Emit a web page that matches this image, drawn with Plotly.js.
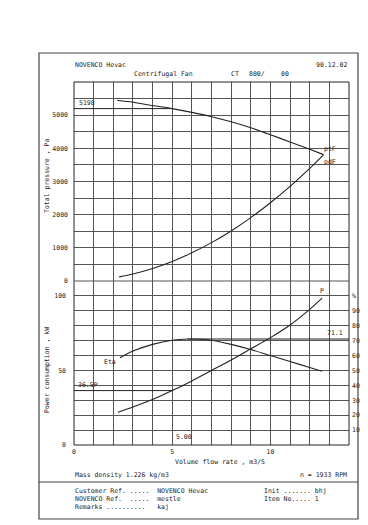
<!DOCTYPE html>
<html><head><meta charset="utf-8">
<script src="https://cdn.plot.ly/plotly-3.0.1.min.js"></script>
<style>html,body{margin:0;padding:0;background:#fff}#c{width:368px;height:525px}</style>
</head><body><div id="c"></div>
<script>
// Fan curves
const Q_pt = [2.2, 3, 4, 5, 6, 7, 8, 9, 10, 11, 12, 12.7];
const pt   = [5450, 5390, 5290, 5198, 5085, 4955, 4800, 4620, 4410, 4190, 3970, 3810];
const Q_pd = [2.3, 3, 4, 5, 6, 7, 8, 9, 10, 11, 12, 12.7];
const pd   = [125, 212, 378, 590, 850, 1157, 1510, 1912, 2360, 2855, 3398, 3805];
const Q_P  = [2.24, 3, 4, 5, 6, 7, 8, 9, 10, 11, 12, 12.63];
const power= [22, 25.5, 30.5, 36.5, 43, 50, 57, 64.5, 72, 80.5, 91, 98.5];
const Q_eta= [2.34, 3, 4, 5, 5.8, 6.5, 7, 8, 9, 10, 11, 12, 12.63];
const eta  = [58.5, 63, 67.5, 70.3, 71.1, 70.9, 70.3, 67.5, 64, 60, 56, 52, 49.5];
// operating point
const opQ = [5.00];
const opPt = [5198];
const opP = [36.5];
const etaMax = [71.1];
// ticks
const xTicks = [0, 5, 10];
const ptTicks = [0, 1000, 2000, 3000, 4000, 5000];
const ptMinor = [0,500,1000,1500,2000,2500,3000,3500,4000,4500,5000,5500,6000];
const pTicks = [0, 50, 100];
const pctTicks = [10,20,30,40,50,60,70,80,90,100];
const pctText = ['10','20','30','40','50','60','70','80','90','%'];

const F = 'DejaVu Sans Mono, Liberation Mono, monospace';
const INK = '#222';
const GRID = '#555';
const L = 74, R = 349, T = 82, B = 445;
const px = x => (x - L) / (R - L);
const py = y => (B - y) / (B - T);

const line = {color: INK, width: 1.1, shape: 'spline', smoothing: 0.8};
const traces = [
  {x: Q_pt, y: pt, xaxis: 'x', yaxis: 'y', mode: 'lines', line: line, name: 'ptF'},
  {x: Q_pd, y: pd, xaxis: 'x', yaxis: 'y', mode: 'lines', line: line, name: 'pdF'},
  {x: Q_P, y: power, xaxis: 'x', yaxis: 'y2', mode: 'lines', line: line, name: 'P'},
  {x: Q_eta, y: eta, xaxis: 'x', yaxis: 'y3', mode: 'lines', line: line, name: 'Eta'}
];

const split = (B - 281) / (B - T);
const tf = {family: F, size: 6.5, color: INK};
const layout = {
  width: 368, height: 525,
  margin: {l: L, r: 368 - R, t: T, b: 525 - B},
  paper_bgcolor: '#fff', plot_bgcolor: '#fff',
  showlegend: false,
  font: {family: F, size: 6.5, color: INK},
  xaxis: {
    anchor: 'y2', range: [0, 14], tickmode: 'array', tickvals: xTicks,
    showgrid: true, gridcolor: GRID, gridwidth: 1, zeroline: false,
    minor: {dtick: 1, tick0: 0, showgrid: true, gridcolor: GRID, gridwidth: 1},
    showline: false, ticks: '', tickfont: tf, ticklabelstandoff: 1
  },
  yaxis: {
    domain: [split, 1], range: [0, 6000], anchor: 'x',
    tickmode: 'array', tickvals: ptTicks,
    showgrid: true, gridcolor: GRID, gridwidth: 1, zeroline: false,
    minor: {tickmode: 'array', tickvals: ptMinor, showgrid: true, gridcolor: GRID, gridwidth: 1},
    showline: false, ticks: '', tickfont: tf, ticklabelstandoff: 5
  },
  yaxis2: {
    domain: [0, split], range: [0, 110], anchor: 'x',
    tickmode: 'array', tickvals: pTicks,
    showgrid: true, gridcolor: GRID, gridwidth: 1, zeroline: false,
    minor: {dtick: 10, tick0: 0, showgrid: true, gridcolor: GRID, gridwidth: 1},
    showline: false, ticks: '', tickfont: tf, ticklabelstandoff: 7
  },
  yaxis3: {
    overlaying: 'y2', side: 'right', anchor: 'x', range: [0, 110],
    tickmode: 'array', tickvals: pctTicks, ticktext: pctText,
    showgrid: false, zeroline: false, ticks: '', tickfont: tf, ticklabelstandoff: 2
  },
  shapes: [
    {type: 'rect', xref: 'paper', yref: 'paper', x0: 0, x1: 1, y0: 0, y1: 1,
     line: {color: INK, width: 1}},
    {type: 'line', xref: 'paper', yref: 'paper', x0: 0, x1: 1, y0: split, y1: split,
     line: {color: GRID, width: 1}},
    {type: 'rect', xref: 'paper', yref: 'paper', x0: px(39), x1: px(358), y0: py(519), y1: py(53),
     line: {color: '#444', width: 1.2}},
    {type: 'line', xref: 'paper', yref: 'paper', x0: px(39), x1: px(358), y0: py(482), y1: py(482),
     line: {color: '#444', width: 1.2}},
    {type: 'line', xref: 'x', yref: 'y', x0: 0, x1: opQ[0], y0: opPt[0], y1: opPt[0],
     line: {color: INK, width: 1}},
    {type: 'line', xref: 'x', yref: 'y2', x0: 0, x1: opQ[0], y0: opP[0], y1: opP[0],
     line: {color: INK, width: 1}},
    {type: 'line', xref: 'x', yref: 'y3', x0: 5.8, x1: 14, y0: etaMax[0], y1: etaMax[0],
     line: {color: INK, width: 1}}
  ],
  annotations: []
};
const A = (text, x, y, xanchor, yanchor, extra) => Object.assign(
  {text: text, x: px(x), y: py(y), xref: 'paper', yref: 'paper', xanchor: xanchor || 'left',
   yanchor: yanchor || 'middle', showarrow: false, font: {family: F, size: 6.5, color: INK}}, extra || {});
layout.annotations.push(
  A('NOVENCO Hevac', 73, 65),
  A('90.12.02', 349, 65, 'right'),
  A('Centrifugal Fan', 132, 74.5),
  A('CT', 229, 74.5),
  A('800/', 247, 74.5),
  A('00', 279, 74.5),
  A('Total pressure , Pa', 47, 176, 'center', 'middle', {textangle: -90}),
  A('Power consumption , kW', 47, 370, 'center', 'middle', {textangle: -90}),
  A('Volume flow rate , m3/S', 220, 462, 'center'),
  A('Mass density 1.226 kg/m3', 73, 475),
  A('n = 1933 RPM', 349, 475, 'right'),
  A('Customer Ref. .....  NOVENCO Hevac', 73, 491),
  A('NOVENCO Ref.  .....  mestle', 73, 499),
  A('Remarks ..........   kaj', 73, 507),
  A('Init ....... bhj', 262, 491),
  A('Item No..... 1', 262, 499)
);
const D = (text, x, y, yref, xanchor, yanchor) => ({text: text, x: x, y: y, xref: 'x', yref: yref,
  xanchor: xanchor, yanchor: yanchor, showarrow: false, font: {family: F, size: 6.5, color: INK}});
layout.annotations.push(
  D(String(opPt[0]), 0.15, opPt[0], 'y', 'left', 'bottom'),
  D('ptF', 12.65, 3976, 'y', 'left', 'middle'),
  D('pdF', 12.65, 3593, 'y', 'left', 'middle'),
  D(opP[0].toFixed(1) + 'P', 0.1, opP[0], 'y2', 'left', 'bottom'),
  D('Eta', 2.25, 56, 'y2', 'right', 'middle'),
  D('P', 12.6, 99.5, 'y2', 'center', 'bottom'),
  D(etaMax[0].toFixed(1), 12.8, etaMax[0], 'y3', 'left', 'bottom'),
  D(opQ[0].toFixed(2), 5.1, 1.5, 'y2', 'left', 'bottom')
);
Plotly.newPlot('c', traces, layout, {staticPlot: true, displayModeBar: false});
</script></body></html>
